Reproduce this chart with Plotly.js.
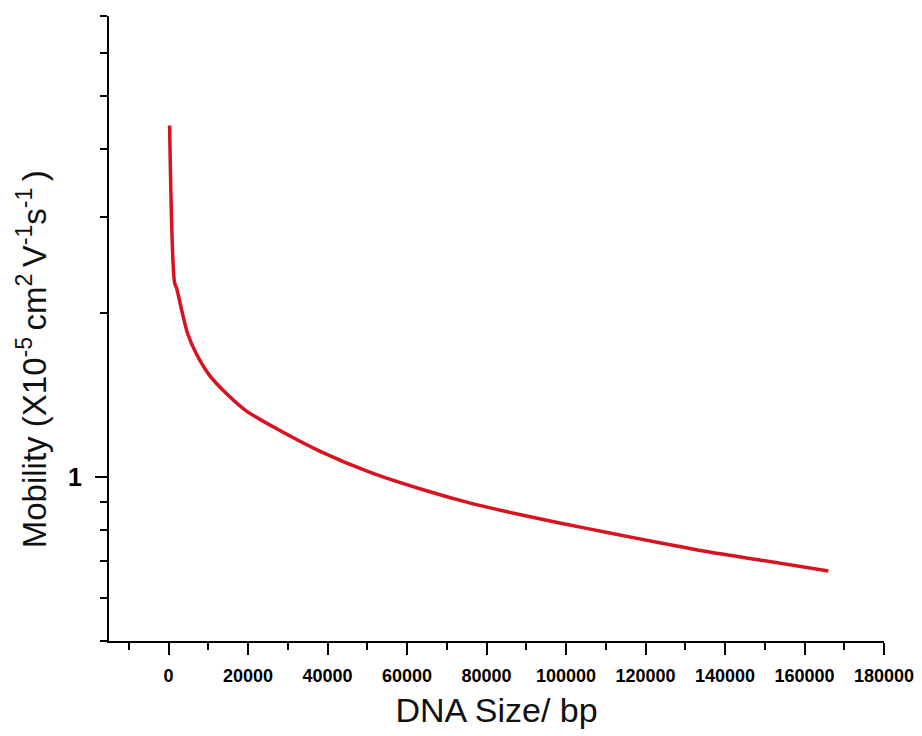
<!DOCTYPE html>
<html>
<head>
<meta charset="utf-8">
<script src="https://cdn.plot.ly/plotly-3.0.1.min.js"></script>
<style>html,body{margin:0;padding:0;background:#fff;}#chart{width:922px;height:736px;}</style>
</head>
<body>
<div id="chart"></div>
<script>
// DNA size (bp) and electrophoretic mobility (x10^-5 cm^2 V^-1 s^-1)
const dnaSize = [250, 1500, 2000, 3300, 4800, 7000, 10300, 14600, 19600, 27200, 38000, 50600, 63200, 75700, 88300, 98400, 111000, 123500, 136100, 148700, 166000];
const mobility = [4.41, 2.27, 2.22, 2.02, 1.83, 1.68, 1.535, 1.42, 1.32, 1.225, 1.115, 1.02, 0.951, 0.896, 0.853, 0.823, 0.789, 0.757, 0.728, 0.704, 0.672];
const xTickVals = [0, 20000, 40000, 60000, 80000, 100000, 120000, 140000, 160000, 180000];
const xTickText = ["0", "20000", "40000", "60000", "80000", "100000", "120000", "140000", "160000", "180000"];
const yTickVals = [1];
const yTickText = ["1"];
const yMinorVals = [0.5, 0.6, 0.7, 0.8, 0.9, 2, 3, 4, 5, 6, 7];
const xMinorVals = [-10000, 10000, 30000, 50000, 70000, 90000, 110000, 130000, 150000, 170000];

const trace = {
  x: dnaSize, y: mobility, type: 'scatter', mode: 'lines',
  line: {color: '#d9121f', width: 3.5, shape: 'spline', smoothing: 0.8},
  hoverinfo: 'none'
};

const layout = {
  width: 922, height: 736,
  margin: {l: 109, r: 38, t: 16, b: 95},
  paper_bgcolor: '#ffffff', plot_bgcolor: '#ffffff',
  showlegend: false,
  xaxis: {
    range: [-15000, 180000],
    tickmode: 'array', tickvals: xTickVals, ticktext: xTickText,
    ticks: 'outside', ticklen: 12, tickwidth: 2, tickcolor: '#000',
    ticklabelstandoff: 5,
    minor: {tickmode: 'array', tickvals: xMinorVals, ticks: 'outside', ticklen: 7, tickwidth: 2, tickcolor: '#000'},
    showline: true, linecolor: '#000', linewidth: 2,
    showgrid: false, zeroline: false,
    tickfont: {family: 'Liberation Sans, Arial, sans-serif', size: 18, color: '#000', weight: 'bold'},
    title: {text: 'DNA Size/ bp', font: {family: 'Liberation Sans, Arial, sans-serif', size: 34, color: '#111'}, standoff: 14}
  },
  yaxis: {
    type: 'log',
    range: [Math.log10(0.5), Math.log10(7)],
    tickmode: 'array', tickvals: yTickVals, ticktext: yTickText,
    ticks: 'outside', ticklen: 12, tickwidth: 2, tickcolor: '#000',
    ticklabelstandoff: 8,
    minor: {tickmode: 'array', tickvals: yMinorVals, ticks: 'outside', ticklen: 7, tickwidth: 2, tickcolor: '#000'},
    showline: true, linecolor: '#000', linewidth: 2,
    showgrid: false, zeroline: false,
    tickfont: {family: 'Liberation Sans, Arial, sans-serif', size: 25, color: '#000', weight: 'bold'}
  },
  annotations: [{
    text: 'Mobility (X10<sup>-5 </sup>cm<sup>2 </sup>V<sup>-1</sup>s<sup>-1 </sup>)',
    textangle: -90, showarrow: false,
    xref: 'paper', yref: 'paper', x: -0.1, y: 0.45,
    xanchor: 'center', yanchor: 'middle',
    font: {family: 'Liberation Sans, Arial, sans-serif', size: 33, color: '#111'}
  }]
};

Plotly.newPlot('chart', [trace], layout, {displayModeBar: false, staticPlot: true});
</script>
</body>
</html>
